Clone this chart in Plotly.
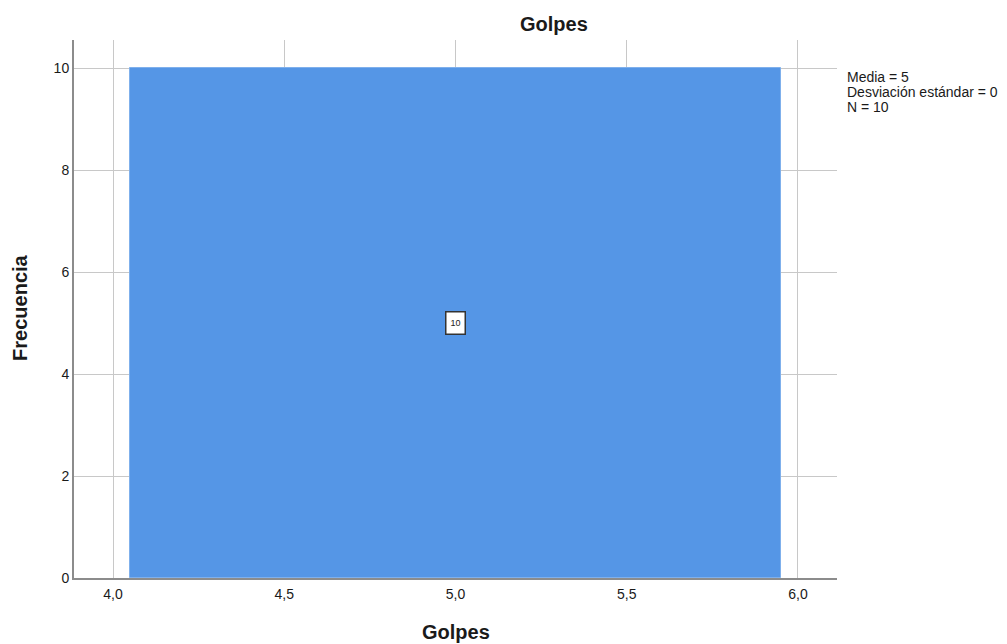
import plotly.graph_objects as go

# Data
bin_centers = [5.0]
frequencies = [10]
bin_width = 1.9
x_ticks = [4.0, 4.5, 5.0, 5.5, 6.0]
y_ticks = [0, 2, 4, 6, 8, 10]
stats_text = ["Media = 5", "Desviación estándar = 0", "N = 10"]
title = "Golpes"
x_title = "Golpes"
y_title = "Frecuencia"

FONT = "Liberation Sans, Arial, sans-serif"
TXT = "#1a1a1a"

fig = go.Figure()
fig.add_trace(go.Bar(
    x=bin_centers, y=frequencies, width=bin_width,
    marker=dict(color="#5596E6", line=dict(color="#7FB0EC", width=1)),
    hoverinfo="x+y", showlegend=False,
))

# count label in box at bar middle
for xc, f in zip(bin_centers, frequencies):
    fig.add_annotation(
        x=xc, y=f / 2, text=str(f), showarrow=False,
        font=dict(family=FONT, size=9, color="#222"),
        bgcolor="white", bordercolor="#333", borderwidth=1.5, borderpad=3,
        width=12, height=15,
    )

# title
fig.add_annotation(
    xref="paper", yref="paper", x=0.629, y=1.0297, text="<b>%s</b>" % title,
    showarrow=False, font=dict(family=FONT, size=20, color=TXT),
    xanchor="center", yanchor="middle",
)
# axis titles
fig.add_annotation(
    xref="paper", yref="paper", x=0.5006, y=-0.1004, text="<b>%s</b>" % x_title,
    showarrow=False, font=dict(family=FONT, size=20, color=TXT),
    xanchor="center", yanchor="middle",
)
fig.add_annotation(
    xref="paper", yref="paper", x=-0.0708, y=0.502, text="<b>%s</b>" % y_title,
    showarrow=False, font=dict(family=FONT, size=20, color=TXT), textangle=-90,
    xanchor="center", yanchor="middle",
)
# stats text
for i, (line, yp) in enumerate(zip(stats_text, [0.9312, 0.9033, 0.8755])):
    fig.add_annotation(
        xref="paper", yref="paper", x=1.0105, y=yp, text=line,
        showarrow=False, align="left", xanchor="left", yanchor="middle",
        font=dict(family=FONT, size=14, color=TXT),
    )

fig.update_layout(
    width=999, height=636,
    margin=dict(l=66, r=170, t=32, b=66, autoexpand=False),
    paper_bgcolor="white", plot_bgcolor="white",
    separators=",.",
    font=dict(family=FONT, size=14, color=TXT),
    bargap=0,
)
fig.update_xaxes(
    range=[3.886, 6.114], tickvals=x_ticks, tickformat=".1f",
    showgrid=True, gridcolor="#C8C8C8", gridwidth=1,
    showline=True, linecolor="#8C8C8C", linewidth=2,
    ticks="", zeroline=False, automargin=False, ticklabelstandoff=2,
    tickfont=dict(family=FONT, size=14, color=TXT),
)
fig.update_yaxes(
    range=[0, 10.55], tickvals=y_ticks,
    showgrid=True, gridcolor="#C8C8C8", gridwidth=1,
    showline=True, linecolor="#8C8C8C", linewidth=2,
    ticks="", zeroline=False, automargin=False,
    tickfont=dict(family=FONT, size=14, color=TXT),
)

fig.write_html("out.html")
